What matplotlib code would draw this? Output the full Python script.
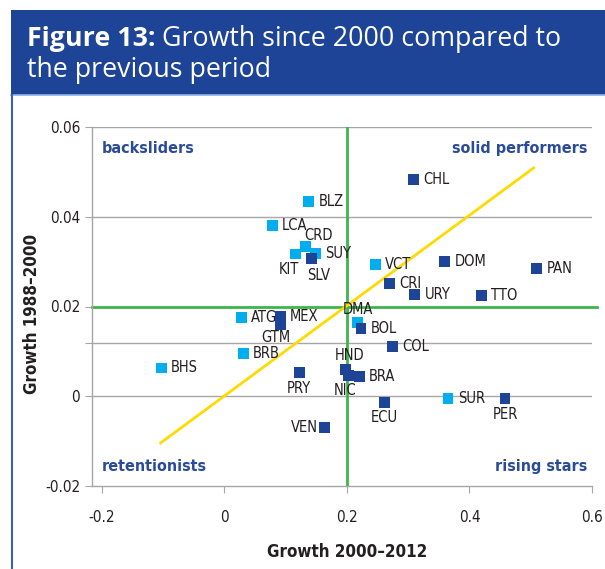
"""Scatter of growth 2000-2012 vs 1988-2000 with quadrant lines (Figure 13)."""

import matplotlib.pyplot as plt
from matplotlib.patches import Rectangle

# --- data ---
countries = [
    "BHS", "BRB", "ATG", "MEX", "GTM", "LCA", "BLZ", "CRD", "KIT", "SUY",
    "SLV", "CHL", "VCT", "CRI", "URY", "DOM", "TTO", "PAN", "DMA", "BOL",
    "COL", "HND", "NIC", "BRA", "ECU", "SUR", "PER", "PRY", "VEN",
]
growth_2000_2012 = [
    -0.103, 0.031, 0.028, 0.091, 0.091, 0.078, 0.138, 0.132, 0.116, 0.148,
    0.142, 0.308, 0.246, 0.269, 0.311, 0.360, 0.419, 0.510, 0.218, 0.223,
    0.275, 0.198, 0.202, 0.220, 0.261, 0.365, 0.458, 0.122, 0.164,
]
growth_1988_2000 = [
    0.0063, 0.0096, 0.0176, 0.0177, 0.0159, 0.0380, 0.0434, 0.0333, 0.0317, 0.0318,
    0.0308, 0.0482, 0.0293, 0.0251, 0.0227, 0.0301, 0.0225, 0.0285, 0.0164, 0.0151,
    0.0111, 0.0059, 0.0047, 0.0043, -0.0013, -0.0004, -0.0006, 0.0052, -0.0070,
]
# light-blue markers (small states), the rest are dark blue
small_states = ["BHS", "BRB", "ATG", "LCA", "BLZ", "CRD", "KIT", "SUY", "VCT", "DMA", "SUR"]

trend_x = [-0.104, 0.505]
trend_y = [-0.0104, 0.0509]
mean_x = 0.2
mean_y = 0.02
extra_grid_y = 0.0118

x_ticks = [-0.2, 0, 0.2, 0.4, 0.6]
x_tick_labels = ["-0.2", "0", "0.2", "0.4", "0.6"]
y_ticks = [-0.02, 0, 0.02, 0.04, 0.06]
y_tick_labels = ["-0.02", "0", "0.02", "0.04", "0.06"]

quadrants = ["backsliders", "solid performers", "retentionists", "rising stars"]

DARK = "#1D4496"
LIGHT = "#00AEEF"
GREEN = "#3DB54A"
YELLOW = "#FFDA00"
GRID = "#A6A6A6"
TXT = "#231F20"
NARROW = dict(family="DejaVu Sans", fontstretch="condensed")

# label placement relative to marker (points offset, ha, va)
label_place = {
    "CRD": (-1, 3, "left", "bottom"),
    "KIT": (3, -6, "right", "top"),
    "SLV": (-3, -7, "left", "top"),
    "GTM": (-3, -4, "center", "top"),
    "PRY": (0, -6, "center", "top"),
    "NIC": (-2, -6, "center", "top"),
    "HND": (3, 5, "center", "bottom"),
    "DMA": (0, 4, "center", "bottom"),
    "ECU": (0, -6, "center", "top"),
    "PER": (0, -6, "center", "top"),
    "VEN": (-5, 0, "right", "center"),
}

fig = plt.figure(figsize=(6.05, 5.69), dpi=100)

# title band and frame
fig.patches.append(Rectangle((11 / 605, 1 - 95 / 569), 1, 85 / 569, transform=fig.transFigure,
                             facecolor="#1D4496", edgecolor="none", zorder=0))
fig.add_artist(plt.Line2D([11 / 605, 1], [1 - 95 / 569] * 2, transform=fig.transFigure,
                          color="#8FB3E8", linewidth=1.2))
fig.add_artist(plt.Line2D([12 / 605] * 2, [0, 1 - 95 / 569], transform=fig.transFigure,
                          color="#3B62AD", linewidth=1.5))
t1 = fig.text(27 / 605, 1 - 39 / 569, "Figure 13:", color="white", fontsize=19.3,
              family="Open Sans", fontweight="bold", va="center", ha="left")
fig.canvas.draw()
bb = t1.get_window_extent()
fig.text((bb.x1 + 7) / 605, 1 - 39 / 569, "Growth since 2000 compared to", color="white",
         fontsize=19.3, family="Open Sans", va="center", ha="left")
fig.text(27 / 605, 1 - 70 / 569, "the previous period", color="white",
         fontsize=19.3, family="Open Sans", va="center", ha="left")

ax = fig.add_axes([92 / 605, 1 - 486 / 569, (592 - 92) / 605, (486 - 127) / 569])
ax.set_xlim(-0.216, 0.6)
ax.set_ylim(-0.02, 0.06)

for yv in [0, extra_grid_y, 0.04, 0.06]:
    ax.axhline(yv, color=GRID, linewidth=1.0, zorder=1)

ax.axvline(mean_x, color=GREEN, linewidth=2.0, zorder=2)
ax.plot([-0.216, 0.608], [mean_y, mean_y], color=GREEN, linewidth=2.0, zorder=2, clip_on=False)
ax.plot(trend_x, trend_y, color=YELLOW, linewidth=2.0, zorder=3)

colors = [LIGHT if c in small_states else DARK for c in countries]
ax.scatter(growth_2000_2012, growth_1988_2000, marker="s", s=62, c=colors,
           linewidths=0, zorder=4)

for name, xv, yv in zip(countries, growth_2000_2012, growth_1988_2000):
    dx, dy, ha, va = label_place.get(name, (7, 0, "left", "center"))
    ax.annotate(name, (xv, yv), xytext=(dx, dy), textcoords="offset points",
                ha=ha, va=va, fontsize=10.5, color=TXT, zorder=5, **NARROW)

qkw = dict(fontsize=11.5, fontweight="bold", color="#2A4A9A", **NARROW)
ax.text(-0.2, 0.0552, quadrants[0], ha="left", va="center", **qkw)
ax.text(0.592, 0.0552, quadrants[1], ha="right", va="center", **qkw)
ax.text(-0.2, -0.0157, quadrants[2], ha="left", va="center", **qkw)
ax.text(0.592, -0.0157, quadrants[3], ha="right", va="center", **qkw)

ax.set_xticks(x_ticks)
ax.set_xticklabels(x_tick_labels)
ax.set_yticks(y_ticks + [extra_grid_y])
ax.set_yticklabels(y_tick_labels + [""])
ax.tick_params(axis="both", length=5, color=GRID, labelsize=11, labelcolor=TXT)
ax.tick_params(axis="x", pad=12)
for lbl in ax.get_xticklabels() + ax.get_yticklabels():
    lbl.set_family(NARROW["family"])
    lbl.set_stretch(NARROW["fontstretch"])

for side in ["top", "right"]:
    ax.spines[side].set_visible(False)
for side in ["left", "bottom"]:
    ax.spines[side].set_color(GRID)
    ax.spines[side].set_linewidth(1.0)

ax.set_xlabel("Growth 2000\u20132012", fontsize=12.2, fontweight="bold", color=TXT, **NARROW)
ax.set_ylabel("Growth 1988\u20132000", fontsize=12.2, fontweight="bold", color=TXT, **NARROW)
ax.xaxis.set_label_coords(0.51, -0.158)
ax.yaxis.set_label_coords(-0.102, 0.479)

fig.savefig("out.png", dpi=100)
